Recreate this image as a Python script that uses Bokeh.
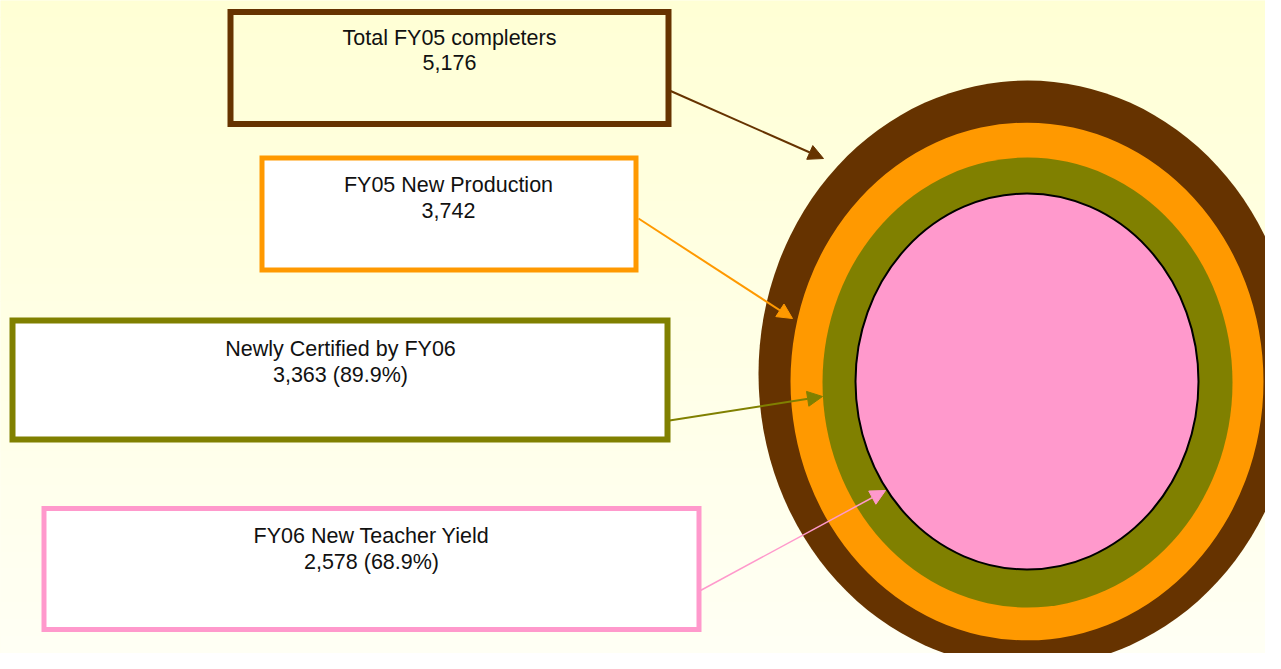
from bokeh.plotting import figure
from bokeh.models import Range1d, Arrow, NormalHead, ColumnDataSource
from bokeh.core.properties import value
from bokeh.embed import file_html
from bokeh.resources import INLINE

# ---- data ----
categories = ["Total FY05 completers", "FY05 New Production",
              "Newly Certified by FY06", "FY06 New Teacher Yield"]
counts = [5176, 3742, 3363, 2578]
percents = [None, None, 89.9, 68.9]
colors = ["#663300", "#FF9900", "#808000", "#FF99CC"]

value_labels = [f"{c:,}" + (f" ({p}%)" if p is not None else "") for c, p in zip(counts, percents)]

# ---- layout (screen-pixel coordinates) ----
box_left = [230, 261.5, 12, 43.5]
box_right = [668, 635.5, 667, 698.5]
box_top = [11.5, 157.5, 320, 508]
box_bottom = [123.5, 269.5, 439, 629]
box_fill = [None, "white", "white", "white"]
box_lw = [6, 5, 6, 5]
title_y = [37, 184, 348, 535]
value_y = [62, 210, 374, 561]
text_x = [449, 448, 340, 371]

ell_x = [1027, 1026.5, 1027, 1026.5]
ell_y = [373.5, 381, 382, 381]
ell_w = [538, 473, 410, 343]
ell_h = [587, 518, 450, 376]

arrow_start = [(669, 90), (638, 218), (669, 420), (700, 590)]
arrow_end = [(823, 158), (792, 318), (822, 396), (885, 490)]
arrow_lw = [2, 2, 2, 1.5]

W, H = 1265, 653
p = figure(width=W, height=H, output_backend="svg", toolbar_location=None,
           x_range=Range1d(0, W), y_range=Range1d(H, 0),
           min_border=0, outline_line_color=None)
p.axis.visible = False
p.grid.visible = False
p.background_fill_color = "#FFFFE5"
p.border_fill_color = "#FFFFE5"

# background gradient bands
n = 40
top_c, bot_c = 213, 245
bands_t, bands_b, bands_c = [], [], []
for i in range(n):
    y0 = 669 * i / n
    y1 = 669 * (i + 1) / n
    frac = ((y0 + y1) / 2) / 669
    b = int(round(top_c + (bot_c - top_c) * frac))
    bands_t.append(y0 - 0.5)
    bands_b.append(y1 + 0.5)
    bands_c.append(f"#FFFF{b:02X}")
p.quad(left=-10, right=1300, top=bands_t, bottom=bands_b, fill_color=bands_c, line_color=None)

# nested ellipses
for i in range(4):
    p.ellipse(x=ell_x[i], y=ell_y[i], width=ell_w[i], height=ell_h[i],
              fill_color=colors[i], line_color="black" if i == 3 else None,
              line_width=2)

# boxes
for i in range(4):
    p.quad(left=box_left[i], right=box_right[i], top=box_top[i], bottom=box_bottom[i],
           fill_color=box_fill[i], fill_alpha=1.0 if box_fill[i] else 0.0,
           line_color=colors[i], line_width=box_lw[i], line_join="miter")

# labels
src = ColumnDataSource(dict(x=text_x, ty=title_y, vy=value_y, t=categories, v=value_labels))
p.text(x="x", y="ty", text="t", source=src, text_align="center", text_baseline="middle",
       text_font=value("Liberation Sans"), text_font_size="21.5px", text_color="#111111")
p.text(x="x", y="vy", text="v", source=src, text_align="center", text_baseline="middle",
       text_font=value("Liberation Sans"), text_font_size="21.5px", text_color="#111111")

# arrows
for i in range(4):
    (xs, ys), (xe, ye) = arrow_start[i], arrow_end[i]
    p.add_layout(Arrow(end=NormalHead(size=15, fill_color=colors[i], line_color=colors[i], line_width=1),
                       x_start=xs, y_start=ys, x_end=xe, y_end=ye,
                       line_color=colors[i], line_width=arrow_lw[i]))

open("out.html", "w").write(file_html(p, INLINE))
